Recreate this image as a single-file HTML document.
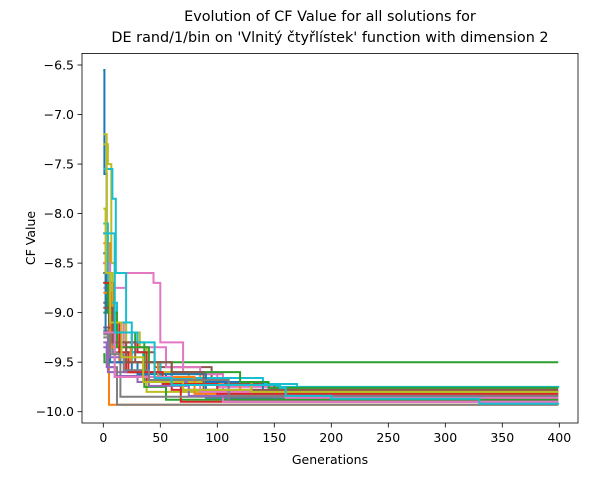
<!DOCTYPE html>
<html><head><meta charset="utf-8"><style>
body{margin:0;background:#fff;font-family:"DejaVu Sans","Liberation Sans",sans-serif}
</style></head><body>
<svg id="chart" width="592" height="476" xmlns="http://www.w3.org/2000/svg" font-family="DejaVu Sans, Liberation Sans, sans-serif">
<rect width="592" height="476" fill="#fff"/>
<text x="330" y="21" text-anchor="middle" font-size="14.4">Evolution of CF Value for all solutions for</text>
<text x="330" y="42" text-anchor="middle" font-size="14.4">DE rand/1/bin on 'Vlnitý čtyřlístek' function with dimension 2</text>
<g id="series"></g>
<rect x="82" y="53.4" width="496" height="369.6" fill="none" stroke="#000" stroke-width="0.8"/>
<g id="xticks"></g>
<g id="yticks"></g>
<text x="330" y="464" text-anchor="middle" font-size="12.5">Generations</text>
<text transform="translate(35,238) rotate(-90)" text-anchor="middle" font-size="12.5">CF Value</text>
</svg>
<script>
const xTicks=[0,50,100,150,200,250,300,350,400];
const yTicks=[-6.5,-7.0,-7.5,-8.0,-8.5,-9.0,-9.5,-10.0];
const colors=["#1f77b4","#ff7f0e","#2ca02c","#d62728","#9467bd","#8c564b","#e377c2","#7f7f7f","#bcbd22","#17becf"];
const s01=[[0,-6.55],[1,-7.6],[3,-8.6],[6,-9.2],[15,-9.5],[40,-9.7],[90,-9.86],[399,-9.86]];
const s02=[[0,-8.3],[2,-9.0],[5,-9.93],[399,-9.93]];
const s03=[[0,-9.42],[1,-9.5],[399,-9.5]];
const s04=[[0,-8.5],[3,-8.8],[8,-9.3],[20,-9.6],[60,-9.78],[110,-9.88],[399,-9.88]];
const s05=[[0,-9.2],[4,-9.6],[30,-9.7],[70,-9.8],[160,-9.86],[399,-9.86]];
const s06=[[0,-8.9],[5,-9.2],[25,-9.4],[45,-9.55],[95,-9.7],[130,-9.82],[399,-9.82]];
const s07=[[0,-8.75],[20,-8.6],[40,-8.6],[44,-8.7],[50,-9.3],[70,-9.6],[100,-9.75],[150,-9.85],[399,-9.85]];
const s08=[[0,-9.18],[5,-9.55],[12,-9.93],[399,-9.93]];
const s09=[[0,-7.3],[4,-7.5],[7,-8.5],[10,-9.2],[32,-9.35],[38,-9.8],[399,-9.8]];
const s10=[[0,-7.55],[8,-7.85],[11,-8.6],[20,-9.4],[35,-9.6],[60,-9.72],[150,-9.75],[400,-9.75]];
const s11=[[0,-8.4],[3,-9.0],[6,-9.5],[25,-9.6],[55,-9.7],[100,-9.78],[399,-9.78]];
const s12=[[0,-8.6],[3,-8.3],[6,-9.2],[14,-9.5],[35,-9.6],[85,-9.72],[120,-9.8],[399,-9.8]];
const s13=[[0,-9.0],[10,-9.2],[28,-9.3],[36,-9.75],[55,-9.88],[399,-9.88]];
const s14=[[0,-8.2],[3,-8.7],[9,-9.3],[30,-9.4],[38,-9.7],[68,-9.9],[399,-9.9]];
const s15=[[0,-9.35],[5,-9.45],[18,-9.6],[45,-9.7],[75,-9.78],[110,-9.9],[399,-9.9]];
const s16=[[0,-9.15],[8,-9.3],[28,-9.5],[50,-9.62],[105,-9.72],[150,-9.78],[399,-9.78]];
const s17=[[0,-8.5],[6,-9.1],[18,-9.35],[55,-9.55],[85,-9.62],[105,-9.9],[399,-9.9]];
const s18=[[0,-9.25],[8,-9.4],[15,-9.85],[399,-9.85]];
const s19=[[0,-7.2],[3,-8.6],[8,-9.1],[20,-9.5],[45,-9.6],[75,-9.7],[130,-9.82],[399,-9.82]];
const s20=[[0,-8.1],[4,-8.9],[12,-9.1],[25,-9.5],[50,-9.66],[140,-9.72],[170,-9.8],[399,-9.8]];
const s21=[[0,-8.6],[2,-9.2],[10,-9.5],[30,-9.62],[90,-9.7],[140,-9.84],[399,-9.84]];
const s22=[[0,-8.8],[7,-9.35],[24,-9.5],[48,-9.65],[80,-9.82],[399,-9.82]];
const s23=[[0,-8.7],[4,-9.0],[12,-9.35],[40,-9.5],[60,-9.6],[120,-9.7],[145,-9.76],[399,-9.76]];
const s24=[[0,-8.7],[6,-9.1],[14,-9.4],[22,-9.6],[52,-9.72],[100,-9.82],[399,-9.82]];
const s25=[[0,-9.3],[3,-9.55],[10,-9.64],[40,-9.74],[75,-9.84],[399,-9.84]];
const s26=[[0,-8.95],[8,-9.3],[20,-9.5],[60,-9.6],[88,-9.78],[399,-9.78]];
const s27=[[0,-9.2],[10,-9.65],[60,-9.73],[85,-9.8],[160,-9.86],[399,-9.86]];
const s28=[[0,-9.22],[6,-9.42],[18,-9.58],[40,-9.68],[110,-9.84],[399,-9.84]];
const s29=[[0,-7.95],[2,-8.6],[6,-9.1],[16,-9.45],[35,-9.7],[70,-9.78],[130,-9.8],[399,-9.8]];
const s30=[[0,-8.2],[10,-9.2],[20,-9.2],[30,-9.3],[45,-9.66],[60,-9.73],[155,-9.76],[160,-9.84],[200,-9.87],[330,-9.92],[399,-9.93]];
const allSeries=[s01,s02,s03,s04,s05,s06,s07,s08,s09,s10,s11,s12,s13,s14,s15,s16,s17,s18,s19,s20,s21,s22,s23,s24,s25,s26,s27,s28,s29,s30];

const X=v=>103.3+v*(456/400);
const Y=v=>65+(v+6.5)*(346.7/-3.5);
const NS="http://www.w3.org/2000/svg";
const g=document.getElementById('series');
allSeries.forEach((s,i)=>{
  let d="M"+X(s[0][0]).toFixed(1)+","+Y(s[0][1]).toFixed(1);
  for(let k=1;k<s.length;k++){d+="H"+X(s[k][0]).toFixed(1)+"V"+Y(s[k][1]).toFixed(1);}
  const p=document.createElementNS(NS,'path');
  p.setAttribute('d',d);p.setAttribute('fill','none');
  p.setAttribute('stroke',colors[i%10]);p.setAttribute('stroke-width','2');
  
  
  g.appendChild(p);
});
const xg=document.getElementById('xticks');
xTicks.forEach(t=>{
  const l=document.createElementNS(NS,'line');
  l.setAttribute('x1',X(t));l.setAttribute('x2',X(t));l.setAttribute('y1',423);l.setAttribute('y2',427.5);l.setAttribute('stroke','#000');l.setAttribute('stroke-width','0.8');
  
  
  xg.appendChild(l);
  const tx=document.createElementNS(NS,'text');
  tx.setAttribute('x',X(t));tx.setAttribute('y',442);tx.setAttribute('text-anchor','middle');tx.setAttribute('font-size','12.5');
  tx.textContent=t;
  
  
  xg.appendChild(tx);
});
const yg=document.getElementById('yticks');
yTicks.forEach(t=>{
  const l=document.createElementNS(NS,'line');
  l.setAttribute('x1',77.5);l.setAttribute('x2',82);l.setAttribute('y1',Y(t));l.setAttribute('y2',Y(t));l.setAttribute('stroke','#000');l.setAttribute('stroke-width','0.8');
  
  
  yg.appendChild(l);
  const tx=document.createElementNS(NS,'text');
  tx.setAttribute('x',74);tx.setAttribute('y',Y(t)+4.5);tx.setAttribute('text-anchor','end');tx.setAttribute('font-size','12.5');
  tx.textContent=t.toFixed(1).replace('-','\u2212');
  
  
  yg.appendChild(tx);
});
</script>
</body></html>
